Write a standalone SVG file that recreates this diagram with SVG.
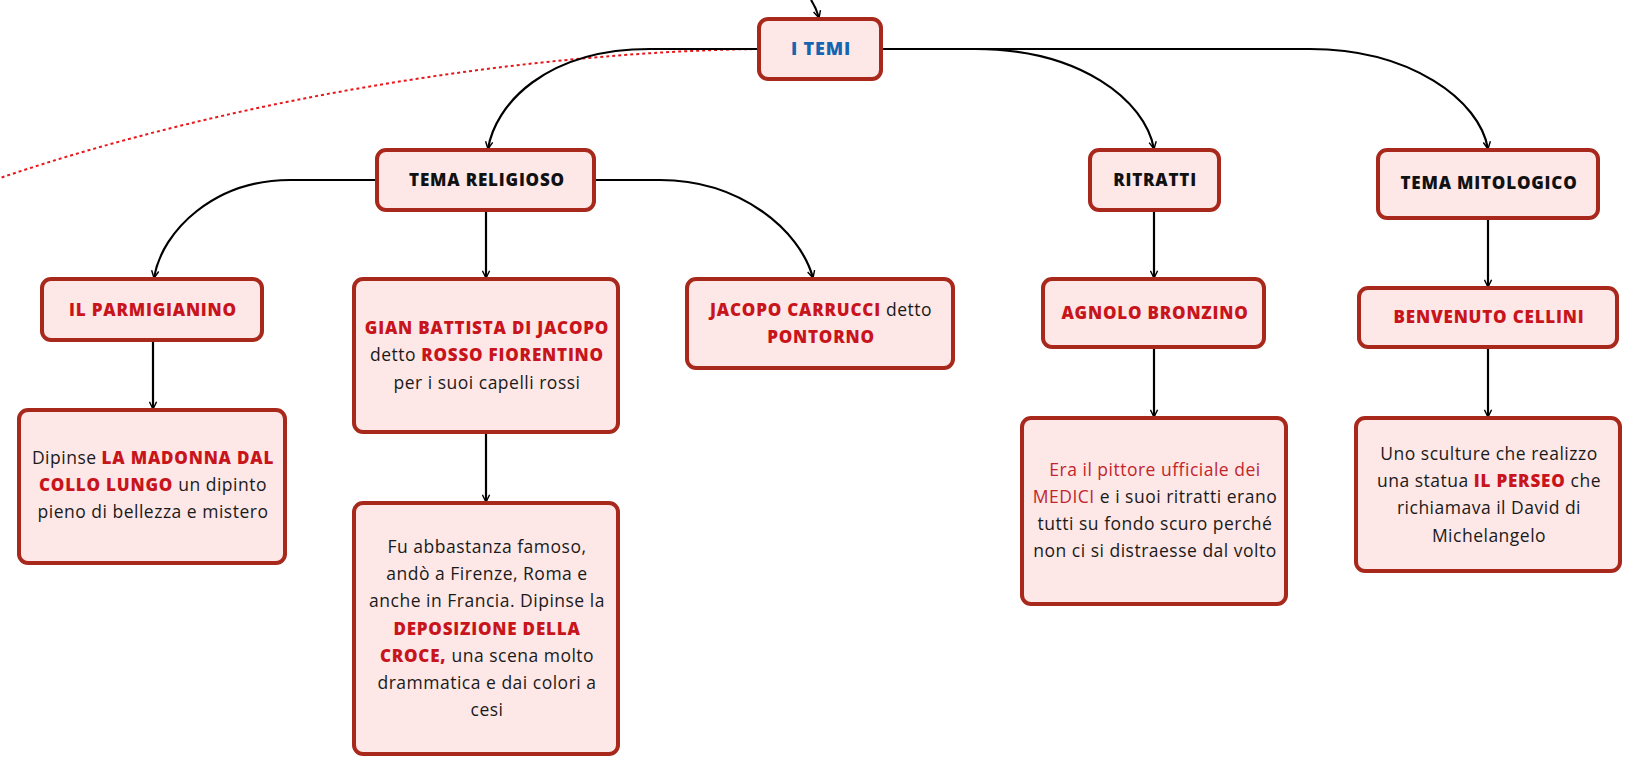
<svg xmlns="http://www.w3.org/2000/svg" width="1640" height="775" viewBox="0 0 1640 775">
<defs>
<style>
.box{fill:#fde7e7;stroke:#a8281c;stroke-width:4}
.t{font-family:"Open Sans","Liberation Sans",sans-serif;font-size:17.5px;letter-spacing:0.5px;fill:#1a1a1a;text-anchor:middle}
.h{font-weight:800;fill:#111;font-size:17px;letter-spacing:0.8px}
.r{font-weight:800;fill:#c8141b;font-size:17px;letter-spacing:0.8px}
.b{font-weight:800;fill:#1565b0;font-size:18px;letter-spacing:0.8px}
.rr{fill:#c0262c}
.c{fill:none;stroke:#000;stroke-width:2.2}
.d{fill:none;stroke:#e8171b;stroke-width:2;stroke-dasharray:3 3}
</style>
<marker id="ar" viewBox="0 0 10 10" refX="9" refY="5" markerWidth="9" markerHeight="9" markerUnits="userSpaceOnUse" orient="auto">
<path d="M1 1 L9 5 L1 9" fill="none" stroke="#000" stroke-width="1.6"/>
</marker>
</defs>
<rect width="1640" height="775" fill="#fff"/>
<g id="connectors">
<path class="d" d="M759 49 C520 52 230 100 0 178"/>
<path class="c" d="M811 0 C815 6 817 11 819 18" marker-end="url(#ar)"/>
<path class="c" d="M759 49 H650 C545 49 495 105 488 149" marker-end="url(#ar)"/>
<path class="c" d="M881 49 H975 C1080 49 1145 100 1154 149" marker-end="url(#ar)"/>
<path class="c" d="M881 49 H1310 C1410 49 1480 100 1488 149" marker-end="url(#ar)"/>
<path class="c" d="M377 180 H290 C215 180 162 230 154 278" marker-end="url(#ar)"/>
<path class="c" d="M486 210 V278" marker-end="url(#ar)"/>
<path class="c" d="M594 180 H660 C740 180 800 230 813 278" marker-end="url(#ar)"/>
<path class="c" d="M153 340 V409" marker-end="url(#ar)"/>
<path class="c" d="M486 432 V502" marker-end="url(#ar)"/>
<path class="c" d="M1154 210 V278" marker-end="url(#ar)"/>
<path class="c" d="M1154 347 V417" marker-end="url(#ar)"/>
<path class="c" d="M1488 218 V287" marker-end="url(#ar)"/>
<path class="c" d="M1488 347 V417" marker-end="url(#ar)"/>
</g>
<g id="n-temi">
<rect class="box" x="759" y="19" width="122" height="60" rx="9"/>
<text class="t b" x="821" y="55">I TEMI</text>
</g>
<g id="n-religioso">
<rect class="box" x="377" y="150" width="217" height="60" rx="9"/>
<text class="t h" x="487" y="186">TEMA RELIGIOSO</text>
</g>
<g id="n-ritratti">
<rect class="box" x="1090" y="150" width="129" height="60" rx="9"/>
<text class="t h" x="1155" y="186">RITRATTI</text>
</g>
<g id="n-mitologico">
<rect class="box" x="1378" y="150" width="220" height="68" rx="9"/>
<text class="t h" x="1489" y="189">TEMA MITOLOGICO</text>
</g>
<g id="n-parmigianino">
<rect class="box" x="42" y="279" width="220" height="61" rx="9"/>
<text class="t r" x="153" y="316">IL PARMIGIANINO</text>
</g>
<g id="n-rosso">
<rect class="box" x="354" y="279" width="264" height="153" rx="9"/>
<text class="t" x="487" y="334"><tspan class="r">GIAN BATTISTA DI JACOPO</tspan></text>
<text class="t" x="487" y="361">detto <tspan class="r">ROSSO FIORENTINO</tspan></text>
<text class="t" x="487" y="389">per i suoi capelli rossi</text>
</g>
<g id="n-pontorno">
<rect class="box" x="687" y="279" width="266" height="89" rx="9"/>
<text class="t" x="821" y="316"><tspan class="r">JACOPO CARRUCCI</tspan> detto</text>
<text class="t" x="821" y="343"><tspan class="r">PONTORNO</tspan></text>
</g>
<g id="n-bronzino">
<rect class="box" x="1043" y="279" width="221" height="68" rx="9"/>
<text class="t r" x="1155" y="319">AGNOLO BRONZINO</text>
</g>
<g id="n-cellini">
<rect class="box" x="1359" y="288" width="258" height="59" rx="9"/>
<text class="t r" x="1489" y="323">BENVENUTO CELLINI</text>
</g>
<g id="n-madonna">
<rect class="box" x="19" y="410" width="266" height="153" rx="9"/>
<text class="t" x="153" y="464">Dipinse <tspan class="r">LA MADONNA DAL</tspan></text>
<text class="t" x="153" y="491"><tspan class="r">COLLO LUNGO</tspan> un dipinto</text>
<text class="t" x="153" y="518">pieno di bellezza e mistero</text>
</g>
<g id="n-deposizione">
<rect class="box" x="354" y="503" width="264" height="251" rx="9"/>
<text class="t" x="487" y="553">Fu abbastanza famoso,</text>
<text class="t" x="487" y="580">andò a Firenze, Roma e</text>
<text class="t" x="487" y="607">anche in Francia. Dipinse la</text>
<text class="t" x="487" y="635"><tspan class="r">DEPOSIZIONE DELLA</tspan></text>
<text class="t" x="487" y="662"><tspan class="r">CROCE,</tspan> una scena molto</text>
<text class="t" x="487" y="689">drammatica e dai colori a</text>
<text class="t" x="487" y="716">cesi</text>
</g>
<g id="n-medici">
<rect class="box" x="1022" y="418" width="264" height="186" rx="9"/>
<text class="t" x="1155" y="476"><tspan class="rr">Era il pittore ufficiale dei</tspan></text>
<text class="t" x="1155" y="503"><tspan class="rr">MEDICI</tspan> e i suoi ritratti erano</text>
<text class="t" x="1155" y="530">tutti su fondo scuro perché</text>
<text class="t" x="1155" y="557">non ci si distraesse dal volto</text>
</g>
<g id="n-perseo">
<rect class="box" x="1356" y="418" width="264" height="153" rx="9"/>
<text class="t" x="1489" y="460">Uno sculture che realizzo</text>
<text class="t" x="1489" y="487">una statua <tspan class="r">IL PERSEO</tspan> che</text>
<text class="t" x="1489" y="514">richiamava il David di</text>
<text class="t" x="1489" y="542">Michelangelo</text>
</g>
</svg>
